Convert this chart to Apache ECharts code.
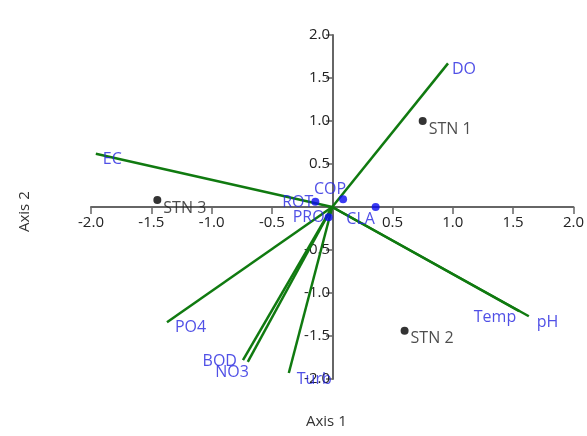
<!DOCTYPE html>
<html>
<head>
<meta charset="utf-8">
<script src="https://cdn.jsdelivr.net/npm/echarts@6/dist/echarts.min.js"></script>
<style>
  html, body { margin: 0; padding: 0; background: #fff; }
  #chart { width: 587px; height: 436px; }
</style>
</head>
<body>
<div id="chart"></div>
<script>
// 环境变量向量 (biplot arrows)
const varNames = ['DO', 'EC', 'pH', 'Temp', 'PO4', 'BOD', 'NO3', 'Turb']
const varX = [0.96, -1.96, 1.63, 1.55, -1.37, -0.74, -0.70, -0.36]
const varY = [1.67, 0.62, -1.27, -1.21, -1.34, -1.78, -1.80, -1.93]

// 站点
const stnNames = ['STN 1', 'STN 2', 'STN 3']
const stnX = [0.75, 0.60, -1.45]
const stnY = [1.0, -1.44, 0.08]

// 物种
const sppNames = ['ROT', 'COP', 'CLA', 'PRO']
const sppX = [-0.14, 0.09, 0.36, -0.03]
const sppY = [0.06, 0.09, 0.0, -0.12]

// label placement per name
const labelPos = {
  DO: { offset: [4, 6], align: 'left' },
  EC: { offset: [7, 6], align: 'left' },
  pH: { offset: [8, 6], align: 'left' },
  Temp: { offset: [-3, 6], align: 'right' },
  PO4: { offset: [8, 5], align: 'left' },
  BOD: { offset: [-6, 1], align: 'right' },
  NO3: { offset: [1, 11], align: 'right' },
  Turb: { offset: [8, 6], align: 'left' },
  ROT: { offset: [-2, 1], align: 'right' },
  COP: { offset: [-13, -10], align: 'center' },
  CLA: { offset: [-15, 12], align: 'center' },
  PRO: { offset: [-4, 0], align: 'right' }
}

const blue = '#2424e0'
const green = '#107a10'
const font = 'Open Sans'

const chart = echarts.init(document.getElementById('chart'))

const series = []

// 向量线
varNames.forEach((name, i) => {
  series.push({
    name: name,
    type: 'line',
    data: [[0, 0], [varX[i], varY[i]]],
    symbol: 'none',
    lineStyle: { color: green, width: 2.5 },
    silent: true,
    z: 3
  })
})

// 向量标签
series.push({
  name: 'varLabels',
  type: 'scatter',
  symbolSize: 1,
  itemStyle: { color: 'rgba(0,0,0,0)' },
  data: varNames.map((n, i) => ({
    value: [varX[i], varY[i], n],
    label: { offset: labelPos[n].offset, align: labelPos[n].align }
  })),
  label: {
    show: true, position: 'inside',
    formatter: p => p.value[2], color: blue, fontSize: 16, fontFamily: font
  },
  silent: true,
  z: 6
})

series.push({
  name: 'stations',
  type: 'scatter',
  data: stnNames.map((n, i) => [stnX[i], stnY[i], n]),
  symbolSize: 8,
  itemStyle: { color: '#000' },
  label: {
    show: true, position: 'right', distance: 2, offset: [0, 8],
    formatter: p => p.value[2], color: '#222', fontSize: 16, fontFamily: font
  },
  z: 4
})

series.push({
  name: 'species',
  type: 'scatter',
  data: sppNames.map((n, i) => ({
    value: [sppX[i], sppY[i], n],
    label: { offset: labelPos[n].offset, align: labelPos[n].align }
  })),
  symbolSize: 8,
  itemStyle: { color: '#0a0af0' },
  label: {
    show: true, position: 'inside',
    formatter: p => p.value[2], color: blue, fontSize: 16, fontFamily: font
  },
  z: 5
})

const axisCommon = {
  type: 'value',
  min: -2,
  max: 2,
  interval: 0.5,
  axisLine: { onZero: false, lineStyle: { color: '#666', width: 2 } },
  axisTick: { show: true, length: 7, lineStyle: { color: '#666', width: 1.5 } },
  splitLine: { show: false },
  axisLabel: {
    color: '#222', fontSize: 15, fontFamily: font,
    formatter: v => (v === 0 ? '' : v.toFixed(1))
  }
}

chart.setOption({
  animation: false,
  grid: { left: 91, right: 12, top: 35, bottom: 57 },
  // 坐标轴移到原点
  xAxis: Object.assign({}, axisCommon, { offset: -172, axisLabel: Object.assign({}, axisCommon.axisLabel, { margin: 8 }) }),
  yAxis: Object.assign({}, axisCommon, { offset: -242, axisLabel: Object.assign({}, axisCommon.axisLabel, { margin: 3 }) }),
  graphic: [
    { type: 'text', left: 306, top: 414, style: { text: 'Axis 1', fontSize: 15, fontFamily: font, fill: '#333' } },
    { type: 'text', x: 17, y: 232, rotation: Math.PI / 2, style: { text: 'Axis 2', fontSize: 15, fontFamily: font, fill: '#333' } }
  ],
  series: series
})
</script>
</body>
</html>
